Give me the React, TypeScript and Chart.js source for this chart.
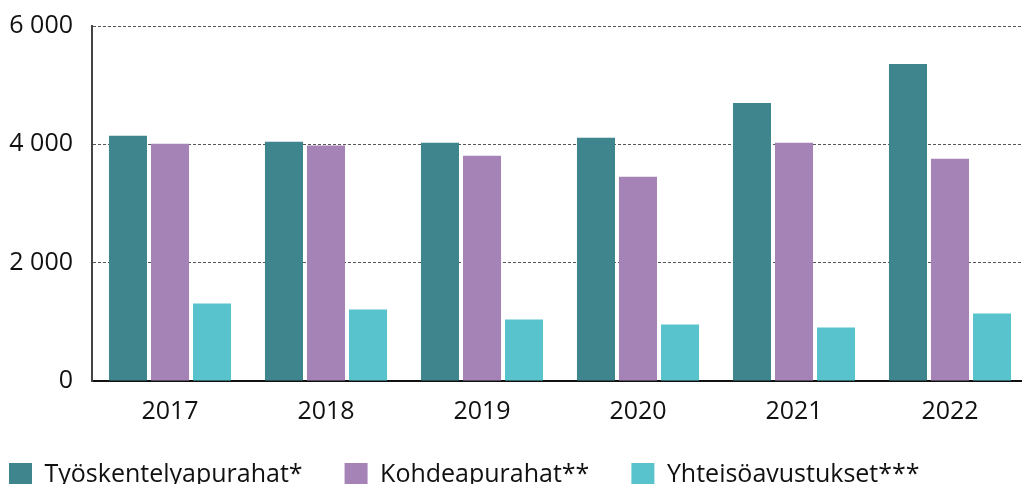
import React, { useEffect, useRef } from "react";
import { Chart, registerables } from "chart.js";

Chart.register(...registerables);

const years = ["2017", "2018", "2019", "2020", "2021", "2022"];
const tyoskentelyapurahat = [4143, 4042, 4025, 4110, 4700, 5359];
const kohdeapurahat = [4008, 3980, 3806, 3452, 4025, 3755];
const yhteisoavustukset = [1308, 1207, 1038, 954, 903, 1139];
const yTicks = [0, 2000, 4000, 6000];

const FONT = "'Open Sans', 'Noto Sans', sans-serif";

export default function App() {
  const ref = useRef<HTMLCanvasElement | null>(null);

  useEffect(() => {
    document.body.style.margin = "0";
    const canvas = ref.current;
    if (!canvas) return;
    const chart = new Chart(canvas, {
      type: "bar",
      data: {
        labels: years,
        datasets: [
          { label: "Työskentelyapurahat*", data: tyoskentelyapurahat, backgroundColor: "#3E858D" },
          { label: "Kohdeapurahat**", data: kohdeapurahat, backgroundColor: "#A583B7" },
          { label: "Yhteisöavustukset***", data: yhteisoavustukset, backgroundColor: "#58C3CD" },
        ],
      },
      options: {
        responsive: false,
        animation: false,
        devicePixelRatio: 1,
        datasets: { bar: { categoryPercentage: 0.808, barPercentage: 0.905 } },
        layout: { padding: { left: -33, right: 0, top: 26, bottom: -13 } },
        plugins: {
          tooltip: { enabled: false },
          legend: {
            position: "bottom",
            align: "start",
            labels: {
              boxWidth: 23,
              boxHeight: 23,
              padding: 42,
              color: "#111",
              font: { family: FONT, size: 25 },
            },
          },
        },
        scales: {
          x: {
            grid: { display: false, drawTicks: false },
            border: { display: true, color: "#111", width: 2 },
            ticks: { color: "#111", padding: 16, font: { family: FONT, size: 25 } },
            afterFit: (s: any) => {
              s.height = 39;
              s.paddingLeft = 0;
              s.paddingRight = 0;
            },
          },
          y: {
            min: 0,
            max: 6000,
            afterBuildTicks: (s: any) => {
              s.ticks = yTicks.map((v) => ({ value: v }));
            },
            grid: {
              color: (c: any) => (c.tick && c.tick.value === 0 ? "rgba(0,0,0,0)" : "#555"),
              lineWidth: 1,
              drawTicks: false,
            },
            border: { display: true, color: "#444", width: 2, dash: [3, 2] },
            ticks: {
              color: "#111",
              padding: 19,
              font: { family: FONT, size: 25 },
              callback: (v: any) => {
                const n = Number(v);
                return n >= 1000 ? `${Math.floor(n / 1000)} ${String(n % 1000).padStart(3, "0")}` : String(n);
              },
            },
            afterFit: (s: any) => {
              s.width = 125;
              s.paddingTop = 0;
              s.paddingBottom = 0;
            },
          },
        },
      },
    } as any);
    return () => chart.destroy();
  }, []);

  return (
    <div style={{ width: 1022, height: 484, overflow: "hidden", position: "relative" }}>
      <canvas ref={ref} width={1028} height={484} style={{ display: "block" }} />
    </div>
  );
}
